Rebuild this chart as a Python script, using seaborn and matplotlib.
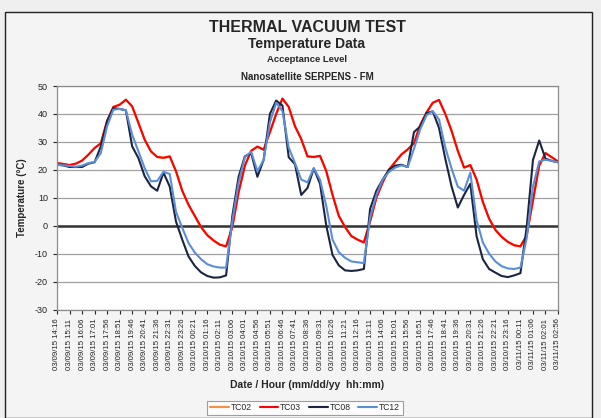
import pandas as pd
import numpy as np
import matplotlib.pyplot as plt
import seaborn as sb
from matplotlib.patches import Rectangle

# readings every 27.5 min, starting 03/09/15 14:16
start = '2015-03-09 14:16'

tc03 = [22.4, 22.1, 21.7, 22.2, 23.3, 25.4, 27.8, 29.5, 37.5, 42.5,
        43.3, 45.1, 42.7, 36.8, 30.8, 26.6, 24.6, 24.3, 24.8, 19.5,
        12.5, 7.5, 3.5, -0.5, -3.4, -5.3, -6.8, -7.4, -0.5, 12.0,
        21.5, 26.8, 28.3, 27.2, 33.5, 40.0, 45.5, 42.5, 35.6, 31.0,
        24.8, 24.6, 25.0, 19.5, 11.0, 3.5, -0.5, -3.7, -5.0, -6.0,
        1.5, 10.0, 15.5, 20.0, 22.8, 25.5, 27.3, 29.5, 36.0, 40.5,
        44.0, 45.0, 40.0, 34.0, 26.8, 20.8, 21.7, 16.5, 8.5, 2.5,
        -1.5, -4.0, -5.8, -7.0, -7.4, -3.5, 9.0, 21.5, 26.0, 24.5,
        23.0]
tc08 = [21.8, 21.6, 21.0, 21.0, 21.0, 22.2, 22.7, 28.4, 37.4, 42.1,
        41.8, 41.3, 28.4, 24.2, 17.7, 14.1, 12.5, 19.0, 14.0, 1.5,
        -5.0, -11.0, -14.4, -16.7, -18.0, -18.6, -18.5, -17.8, 3.5, 17.5,
        24.8, 26.0, 17.5, 23.6, 40.0, 44.8, 43.0, 24.5, 22.0, 11.0,
        13.5, 20.5, 15.0, 0.0, -10.5, -14.2, -16.0, -16.2, -16.0, -15.5,
        6.0, 12.5, 16.5, 20.0, 21.5, 21.8, 21.0, 33.5, 35.5, 40.3,
        40.9, 35.0, 24.0, 14.1, 6.5, 11.0, 15.0, -3.8, -12.0, -15.5,
        -16.8, -18.0, -18.4, -17.8, -17.0, -0.5, 23.5, 30.5, 24.0, 23.2,
        22.7]
tc12 = [21.8, 21.6, 21.4, 21.1, 21.5, 22.4, 22.8, 26.0, 35.6, 41.5,
        41.8, 41.3, 32.6, 26.6, 20.6, 15.9, 16.0, 19.3, 18.5, 5.0,
        -0.8, -6.2, -9.6, -12.0, -13.8, -14.6, -15.0, -15.0, 1.7, 15.5,
        24.5, 26.5, 19.5, 23.6, 37.0, 44.0, 41.0, 28.0, 22.4, 16.5,
        15.5, 20.6, 16.5, 7.0, -5.0, -9.5, -11.5, -12.8, -13.1, -13.4,
        3.0, 11.0, 16.5, 19.2, 20.8, 21.6, 21.0, 27.5, 34.5, 39.5,
        41.0, 38.0, 28.0, 20.5, 14.0, 12.5, 19.0, 2.0, -6.0, -10.0,
        -12.8, -14.5, -15.3, -15.5, -15.0, -4.5, 14.0, 23.0, 23.6, 23.2,
        22.7]
tc02 = list(tc03)  # sits right under TC03, not visible

sensores = ['TC02', 'TC03', 'TC08', 'TC12']
colores = ['#f7913d', '#ff0000', '#1b2540', '#5b8ed8']

times = pd.date_range(start, periods=len(tc03), freq='27min30s')
df = pd.DataFrame({
    'time': np.tile(times.values, 4),
    'sensor': np.repeat(sensores, len(times)),
    'temp': tc02 + tc03 + tc08 + tc12,
})

sb.set_style('white')
plt.rcParams['font.family'] = ['Liberation Sans', 'DejaVu Sans']
plt.rcParams['axes.unicode_minus'] = False

W, H = 601, 418
fig = plt.figure(figsize=(W / 100, H / 100), dpi=100, facecolor='#efefef')
fig.patches.append(Rectangle((5 / W, 0), 587 / W, (H - 12) / H, transform=fig.transFigure,
                             facecolor='#f4f4f4', edgecolor='#222222', lw=1.0, zorder=-5))
ax = fig.add_axes([57 / W, 1 - 309.5 / H, 501 / W, 223.5 / H])
ax.set_facecolor('white')

ax.axhline(0, color='#333333', lw=1.8, zorder=1.5)
sb.lineplot(data=df, x='time', y='temp', hue='sensor', palette=colores,
            hue_order=sensores, estimator=None, sort=False, lw=1.5, ax=ax)

ax.set_ylim(-30, 50)
ax.set_yticks(range(-30, 51, 10))
ax.grid(axis='y', color='#a0a0a0', lw=0.9)
ax.set_axisbelow(True)

ticks = pd.date_range(start, periods=41, freq='55min')
ax.set_xticks(ticks)
ax.set_xticklabels([t.strftime('%m/%d/%y %H:%M') for t in ticks], rotation=90, fontsize=5.6, color='#222222')
ax.set_xlim(ticks[0], ticks[-1])
ax.tick_params(axis='y', labelsize=6.5, colors='#222222', length=3, width=0.8, direction='out', left=True)
ax.tick_params(axis='x', length=3, width=0.8, direction='out', bottom=True)
for s in ax.spines.values():
    s.set_color('#8c8c8c')
    s.set_linewidth(0.9)

ax.set_xlabel('Date / Hour (mm/dd/yy  hh:mm)', fontsize=7.5, fontweight='bold')
ax.set_ylabel('Temperature (°C)', fontsize=7, fontweight='bold')
ax.xaxis.set_label_coords(0.5, (309.5 - 380) / 223.5, transform=ax.transAxes)
ax.yaxis.set_label_coords((22 - 57) / 501, 0.5, transform=ax.transAxes)
ax.yaxis.label.set_va('center')

cx = 307 / W
fig.text(cx, 1 - 27 / H, 'THERMAL VACUUM TEST', ha='center', va='center', fontsize=11.5, fontweight='bold')
fig.text(cx, 1 - 44 / H, 'Temperature Data', ha='center', va='center', fontsize=10, fontweight='bold')
fig.text(cx, 1 - 59 / H, 'Acceptance Level', ha='center', va='center', fontsize=6.8, fontweight='bold')
fig.text(cx, 1 - 77 / H, 'Nanosatellite SERPENS - FM', ha='center', va='center', fontsize=7, fontweight='bold')

sb.move_legend(ax, 'center', bbox_to_anchor=(305 / W, 1 - 408 / H), bbox_transform=fig.transFigure,
               ncol=4, title=None, frameon=True, fontsize=6.2, handlelength=2.2, columnspacing=0.9,
               handletextpad=0.2, borderpad=0.3, fancybox=False, edgecolor='#888888')
leg = ax.get_legend()
leg.get_frame().set_linewidth(0.8)
leg.get_frame().set_facecolor('white')

fig.savefig('out.png', dpi=100, facecolor=fig.get_facecolor())
